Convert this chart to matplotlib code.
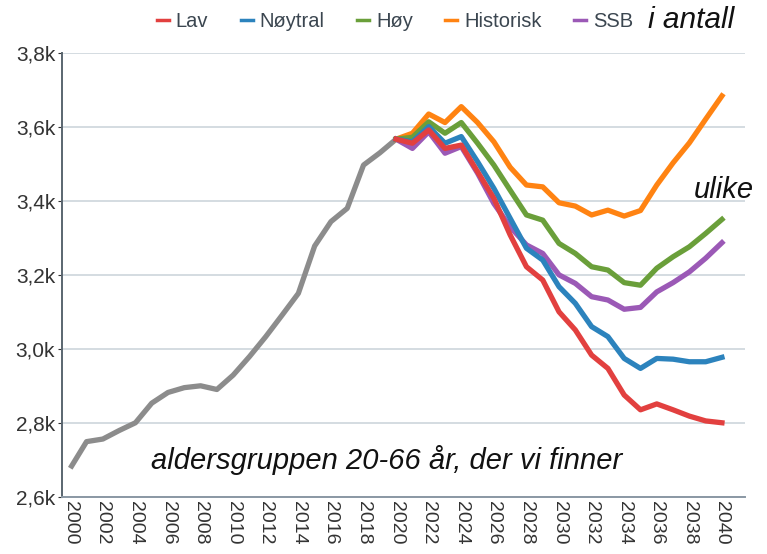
import matplotlib
matplotlib.use("Agg")
from matplotlib import pyplot as plt
from matplotlib.ticker import FuncFormatter

plt.rcParams["font.family"] = ["Liberation Sans", "DejaVu Sans"]

# historical values (thousands)
hist_years = list(range(2000, 2021))
hist_values = [2.677, 2.749, 2.756, 2.779, 2.800, 2.853, 2.882, 2.895, 2.900, 2.890,
               2.929, 2.979, 3.033, 3.091, 3.150, 3.278, 3.344, 3.380, 3.497, 3.530,
               3.567]

# projections 2020-2040 (thousands)
proj_years = list(range(2020, 2041))
lav = [3.567, 3.556, 3.592, 3.542, 3.551, 3.479, 3.407, 3.308, 3.222, 3.186,
       3.100, 3.051, 2.983, 2.947, 2.875, 2.835, 2.851, 2.835, 2.818, 2.805, 2.800]
noytral = [3.567, 3.560, 3.601, 3.556, 3.574, 3.506, 3.434, 3.353, 3.272, 3.240,
           3.168, 3.123, 3.060, 3.033, 2.974, 2.947, 2.974, 2.972, 2.965, 2.965, 2.977]
hoy = [3.567, 3.572, 3.614, 3.583, 3.612, 3.556, 3.497, 3.429, 3.362, 3.348,
       3.285, 3.258, 3.222, 3.213, 3.179, 3.172, 3.218, 3.249, 3.276, 3.312, 3.350]
historisk = [3.567, 3.583, 3.635, 3.612, 3.655, 3.612, 3.560, 3.491, 3.443, 3.438,
             3.395, 3.386, 3.362, 3.375, 3.359, 3.374, 3.443, 3.503, 3.557, 3.621, 3.684]
ssb = [3.567, 3.542, 3.587, 3.529, 3.547, 3.475, 3.393, 3.330, 3.281, 3.258,
       3.200, 3.177, 3.141, 3.132, 3.107, 3.112, 3.154, 3.179, 3.208, 3.245, 3.287]

x_ticks = list(range(2000, 2041, 2))
y_ticks = [2.6, 2.8, 3.0, 3.2, 3.4, 3.6, 3.8]

fig = plt.figure(figsize=(7.67, 5.54), dpi=100)
ax = fig.add_axes([0.081, 0.1034, 0.890, 0.8009])

lw = 3.8
ax.plot(hist_years, hist_values, color="#8c8c8c", lw=lw, solid_capstyle="butt", zorder=3)
l_ssb, = ax.plot(proj_years, ssb, color="#9b59b6", lw=lw, label="SSB", zorder=3)
l_his, = ax.plot(proj_years, historisk, color="#ff8312", lw=lw, label="Historisk", zorder=3)
l_hoy, = ax.plot(proj_years, hoy, color="#6a9f3a", lw=lw, label="Høy", zorder=3)
l_noy, = ax.plot(proj_years, noytral, color="#2c83bd", lw=lw, label="Nøytral", zorder=3)
l_lav, = ax.plot(proj_years, lav, color="#e2403f", lw=lw, label="Lav", zorder=4)

ax.set_xlim(1999.5, 2041.4)
ax.set_ylim(2.6, 3.8)
ax.set_xticks(x_ticks)
ax.set_yticks(y_ticks)
ax.yaxis.set_major_formatter(FuncFormatter(lambda v, p: f"{v:.1f}k".replace(".", ",")))
ax.tick_params(axis="x", labelrotation=270, labelsize=14, colors="#333333", length=0, pad=3)
ax.tick_params(axis="y", labelsize=15, colors="#333333", length=3, pad=2)
ax.grid(axis="y", color="#cdd5dc", lw=1.2, zorder=0)
for s in ["top", "right"]:
    ax.spines[s].set_visible(False)
ax.spines["left"].set_color("#5a6670")
ax.spines["left"].set_linewidth(1.4)
ax.spines["bottom"].set_color("#8a98a4")
ax.spines["bottom"].set_linewidth(1.4)

leg = fig.legend([l_lav, l_noy, l_hoy, l_his, l_ssb], ["Lav", "Nøytral", "Høy", "Historisk", "SSB"],
                 loc="center", bbox_to_anchor=(0.515, 0.962), ncol=5, frameon=False,
                 handlelength=0.6, handletextpad=0.35, columnspacing=1.6, fontsize=14.5)
for t in leg.get_texts():
    t.set_color("#3b4650")
for ln in leg.get_lines():
    ln.set_linewidth(2.5)

fig.text(0.845, 0.963, "i antall", fontsize=21.5, style="italic", ha="left", va="center", color="#111111")
ax.text(2019.4, 2.70, "aldersgruppen 20-66 år, der vi finner", fontsize=21, style="italic",
        ha="center", va="center", color="#111111")
ax.text(2038.3, 3.43, "ulike", fontsize=21, style="italic", ha="left", va="center", color="#111111")

fig.savefig("out.png", dpi=100)
